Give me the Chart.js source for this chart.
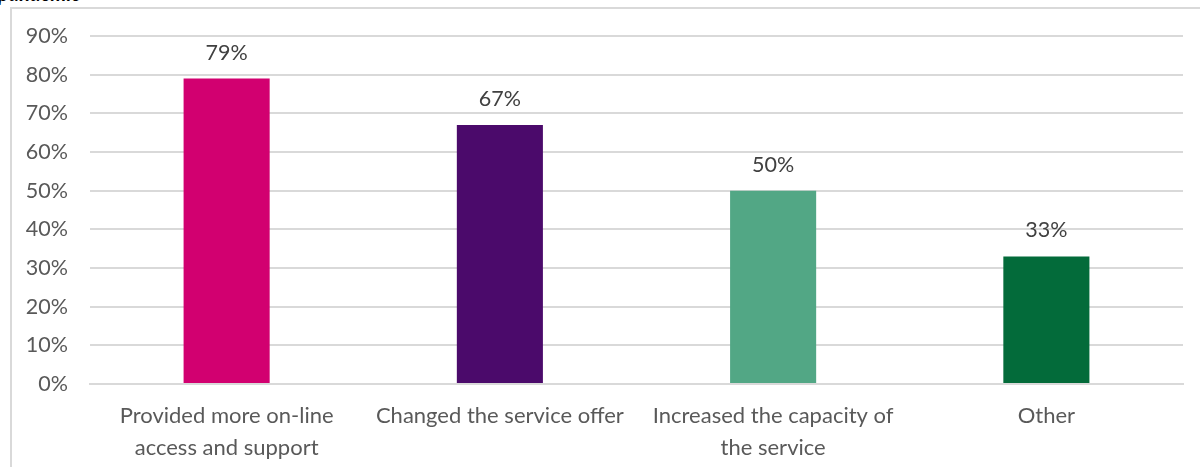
<!DOCTYPE html>
<html>
<head>
<meta charset="utf-8">
<script src="https://cdn.jsdelivr.net/npm/chart.js@4.4.1/dist/chart.umd.min.js"></script>
<style>
  html, body { margin: 0; padding: 0; background: #fff; }
  #wrap { position: relative; width: 1200px; height: 467px; overflow: hidden; }
  #frame { position: absolute; left: 10px; top: 7px; width: 1200px; height: 470px;
           border-left: 2px solid #d9d9d9; border-top: 2px solid #d9d9d9; }
  #caption { position: absolute; left: -2px; top: -19px; line-height: 24px;
             font: italic bold 20px Lato, sans-serif; color: #000; }
  #chart { position: absolute; left: 0; top: 0; }
</style>
</head>
<body>
<div id="wrap">
  <div id="caption">pandemic</div>
  <div id="frame"></div>
  <canvas id="chart" width="1200" height="467"></canvas>
</div>
<script>
const categories = [
    ['Provided more on-line', 'access and support'],
    'Changed the service offer',
    ['Increased the capacity of', 'the service'],
    'Other'
];
const shares = [79, 67, 50, 33];
const barColors = ['#d20070', '#4b0a6b', '#52a785', '#036b3a'];

// value labels above each bar
const valueLabels = {
    id: 'valueLabels',
    afterDatasetsDraw(chart) {
        const ctx = chart.ctx;
        const meta = chart.getDatasetMeta(0);
        ctx.save();
        ctx.font = '21.5px Lato, sans-serif';
        ctx.fillStyle = '#404040';
        ctx.textAlign = 'center';
        ctx.textBaseline = 'alphabetic';
        meta.data.forEach((bar, i) => {
            ctx.fillText(shares[i] + '%', bar.x, bar.y - 19);
        });
        ctx.restore();
    }
};

new Chart(document.getElementById('chart').getContext('2d'), {
    type: 'bar',
    data: {
        labels: categories,
        datasets: [{
            data: shares,
            backgroundColor: barColors,
            borderWidth: 0,
            categoryPercentage: 1,
            barPercentage: 0.315
        }]
    },
    options: {
        responsive: false,
        animation: false,
        layout: { padding: { top: 36, right: 17, bottom: 0, left: 0 } },
        plugins: {
            legend: { display: false },
            tooltip: { enabled: false }
        },
        scales: {
            x: {
                afterFit(scale) { scale.height = 83; },
                grid: { display: false },
                border: { color: '#d9d9d9', width: 2 },
                ticks: {
                    color: '#595959',
                    font: { family: 'Lato, sans-serif', size: 22, lineHeight: 1.45 },
                    maxRotation: 0,
                    autoSkip: false,
                    padding: 8
                }
            },
            y: {
                min: 0,
                max: 90,
                afterFit(scale) { scale.width = 90; },
                grid: { color: '#d9d9d9', lineWidth: 2, drawTicks: false },
                border: { display: false },
                ticks: {
                    stepSize: 10,
                    padding: 22,
                    color: '#595959',
                    font: { family: 'Lato, sans-serif', size: 21.5 },
                    callback: v => v + '%'
                }
            }
        }
    },
    plugins: [valueLabels]
});
</script>
</body>
</html>
